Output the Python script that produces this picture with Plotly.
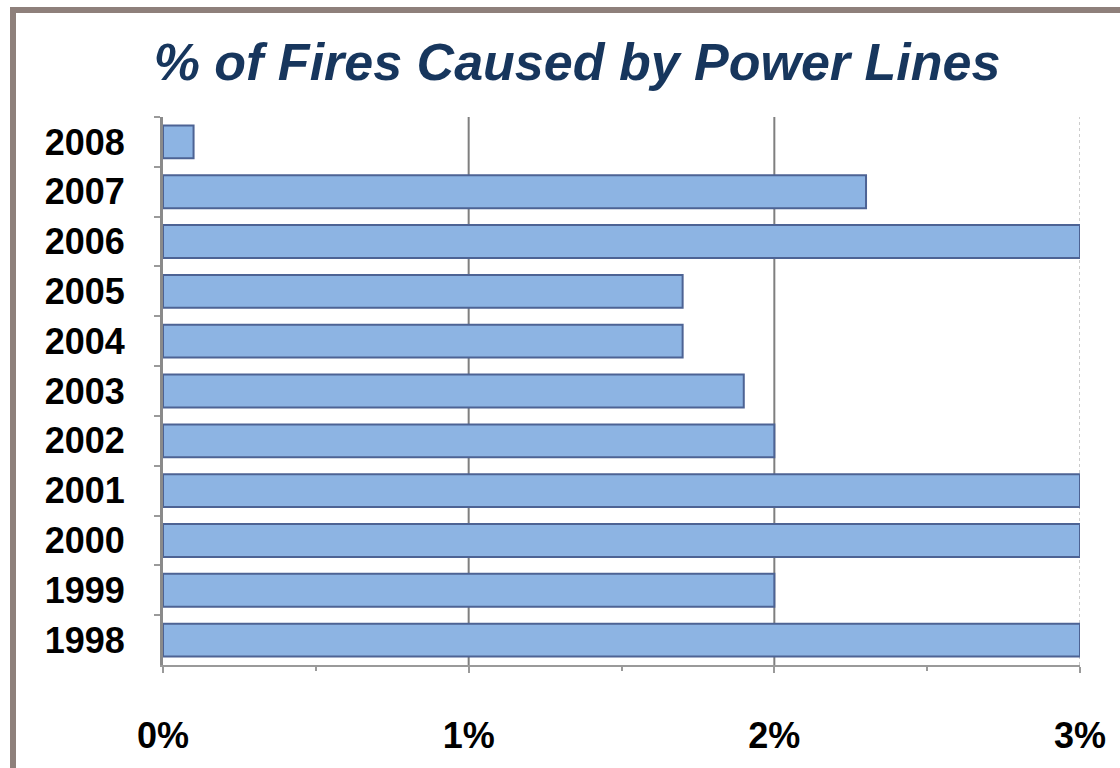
import plotly.graph_objects as go

years = ["2008", "2007", "2006", "2005", "2004", "2003", "2002", "2001", "2000", "1999", "1998"]
pct_fires = [0.1, 2.3, 3.0, 1.7, 1.7, 1.9, 2.0, 3.0, 3.0, 2.0, 3.0]
tick_values = [0, 1, 2, 3]
tick_labels = ["0%", "1%", "2%", "3%"]
title_text = "% of Fires Caused by Power Lines"

W, H = 1120, 768
L, R, T, B = 163, 40, 117, 103
pw, ph = W - L - R, H - T - B

def px_x(x):
    return (x - L) / pw

def px_y(y):
    return (H - B - y) / ph

fig = go.Figure()
fig.add_trace(go.Bar(
    x=pct_fires, y=years, orientation="h", width=0.66,
    marker=dict(color="#8DB4E3", line=dict(color="#4D6394", width=2)),
))

shapes = []
# gridlines at 1%, 2% (dark) and 3% (light dotted)
for v in tick_values[1:]:
    last = v == tick_values[-1]
    shapes.append(dict(type="line", xref="x", yref="paper", x0=v, x1=v, y0=0, y1=1,
                       line=dict(color="#BBBBBB" if last else "#7F7F7F",
                                 width=1.5 if last else 2,
                                 dash="dot" if last else "solid"),
                       layer="below"))
# outer frame
frame = "#8E807B"
shapes.append(dict(type="line", xref="paper", yref="paper",
                   x0=px_x(13), x1=px_x(13), y0=px_y(7), y1=px_y(780),
                   line=dict(color=frame, width=6)))
shapes.append(dict(type="line", xref="paper", yref="paper",
                   x0=px_x(10), x1=px_x(1130), y0=px_y(10), y1=px_y(10),
                   line=dict(color=frame, width=6)))

fig.update_layout(
    width=W, height=H,
    margin=dict(l=L, r=R, t=T, b=B),
    paper_bgcolor="white", plot_bgcolor="white",
    showlegend=False,
    bargap=0.34,
    title=dict(text=title_text, xref="container", x=577 / W, xanchor="center",
               yref="container", y=1 - 62 / H, yanchor="middle",
               font=dict(family="Liberation Sans, Arial", size=52, color="#17365D",
                         weight="bold", style="italic")),
    shapes=shapes,
    xaxis=dict(range=[0, 3], tickvals=tick_values, ticktext=tick_labels,
               showgrid=False, zeroline=False,
               showline=True, linecolor="#9A9A9A", linewidth=2,
               ticks="outside", ticklen=6, tickcolor="#9A9A9A", tickwidth=2,
               minor=dict(dtick=0.5, ticks="outside", ticklen=4, tickcolor="#9A9A9A", tickwidth=2),
               ticklabelstandoff=32,
               tickfont=dict(family="Liberation Sans, Arial", size=36, color="black", weight="bold")),
    yaxis=dict(autorange="reversed", type="category",
               showgrid=False, zeroline=False,
               showline=True, linecolor="#8A8A8A", linewidth=3,
               ticks="outside", tickson="boundaries", ticklen=6, tickcolor="#9A9A9A", tickwidth=2,
               ticklabelstandoff=28,
               tickfont=dict(family="Liberation Sans, Arial", size=36, color="black", weight="bold")),
)

fig.write_html("out.html")
